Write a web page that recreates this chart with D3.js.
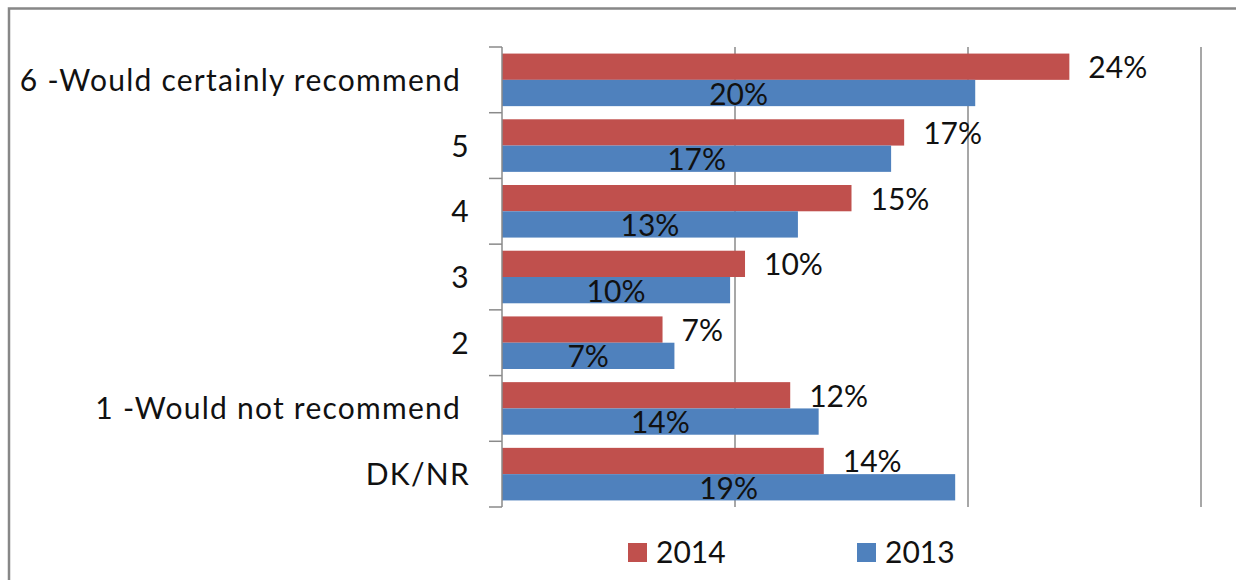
<!DOCTYPE html>
<html>
<head>
<meta charset="utf-8">
<script src="https://cdn.jsdelivr.net/npm/d3@7"></script>
<style>
  html, body { margin: 0; padding: 0; background: #fff; }
  svg { display: block; }
  text { font-family: Lato, "Open Sans", sans-serif; fill: #111; }
</style>
</head>
<body>
<svg id="chart" width="1236" height="580"></svg>
<script>
// Survey answers, top to bottom (trailing space kept as in the source labels)
const categories = [
  "6 -Would certainly recommend ",
  "5",
  "4",
  "3",
  "2",
  "1 -Would not recommend ",
  "DK/NR"
];
const seriesNames = ["2014", "2013"];
const values2014 = [0.2435, 0.1726, 0.150, 0.1043, 0.0689, 0.1237, 0.1381];
const values2013 = [0.2031, 0.1670, 0.1270, 0.0979, 0.0740, 0.1359, 0.1945];
const gridTicks = [0.1, 0.2, 0.3];
const colors = { "2014": "#C0504D", "2013": "#4F81BD" };

const svg = d3.select("#chart");
const fontSize = 30;
const pct = d3.format(".0%");

// Outer chart frame
svg.append("rect")
  .attr("x", 9).attr("y", 8.5)
  .attr("width", 1400).attr("height", 800)
  .attr("fill", "none")
  .attr("stroke", "#878787")
  .attr("stroke-width", 2.5);

const x = d3.scaleLinear().domain([0, 0.3]).range([502, 1201]);
const y = d3.scaleBand().domain(categories).range([47, 507]).padding(0);
const ySeries = d3.scaleBand().domain(seriesNames)
  .range([0, y.bandwidth()]).paddingInner(0).paddingOuter(0.25);

// Vertical gridlines
svg.append("g").selectAll("line")
  .data(gridTicks)
  .join("line")
  .attr("x1", d => x(d)).attr("x2", d => x(d))
  .attr("y1", y.range()[0]).attr("y2", y.range()[1])
  .attr("stroke", "#8a8a8a")
  .attr("stroke-width", 1.5);

// Bars
const rows = categories.map((c, i) => ({
  cat: c,
  items: [
    { s: "2014", v: values2014[i] },
    { s: "2013", v: values2013[i] }
  ]
}));

const groups = svg.append("g").selectAll("g")
  .data(rows)
  .join("g")
  .attr("transform", d => `translate(0,${y(d.cat)})`);

groups.selectAll("rect")
  .data(d => d.items)
  .join("rect")
  .attr("x", x(0))
  .attr("y", d => ySeries(d.s))
  .attr("width", d => x(d.v) - x(0))
  .attr("height", ySeries.bandwidth())
  .attr("fill", d => colors[d.s]);

// Value labels: 2014 outside the bar end, 2013 centred inside the bar
groups.selectAll("text.val")
  .data(d => d.items)
  .join("text")
  .attr("class", "val")
  .attr("font-size", fontSize)
  .attr("x", d => d.s === "2014" ? x(d.v) + 19 : (x(0) + x(d.v)) / 2)
  .attr("y", d => ySeries(d.s) + ySeries.bandwidth() / 2 + 11.5)
  .attr("text-anchor", d => d.s === "2014" ? "start" : "middle")
  .text(d => pct(d.v));

// Category axis: line plus ticks at category boundaries
const axis = svg.append("g");
const boundaries = categories.map(c => y(c)).concat([y.range()[1]]);
axis.append("line")
  .attr("x1", x(0)).attr("x2", x(0))
  .attr("y1", y.range()[0]).attr("y2", y.range()[1])
  .attr("stroke", "#8a8a8a").attr("stroke-width", 1.5);
axis.selectAll("line.tick")
  .data(boundaries)
  .join("line")
  .attr("class", "tick")
  .attr("x1", x(0) - 13).attr("x2", x(0))
  .attr("y1", d => d).attr("y2", d => d)
  .attr("stroke", "#8a8a8a").attr("stroke-width", 1.5);
axis.selectAll("text")
  .data(categories)
  .join("text")
  .attr("font-size", fontSize)
  .attr("x", 470)
  .attr("y", d => y(d) + y.bandwidth() / 2 + 11)
  .attr("text-anchor", "end")
  .style("white-space", "pre")
  .style("letter-spacing", "1.25px")
  .text(d => d);

// Legend
const legendPos = { "2014": 628, "2013": 857 };
const legend = svg.append("g").selectAll("g")
  .data(seriesNames)
  .join("g")
  .attr("transform", d => `translate(${legendPos[d]},543)`);
legend.append("rect")
  .attr("width", 19).attr("height", 19)
  .attr("fill", d => colors[d]);
legend.append("text")
  .attr("font-size", fontSize)
  .attr("x", 28).attr("y", 20)
  .text(d => d);
</script>
</body>
</html>
